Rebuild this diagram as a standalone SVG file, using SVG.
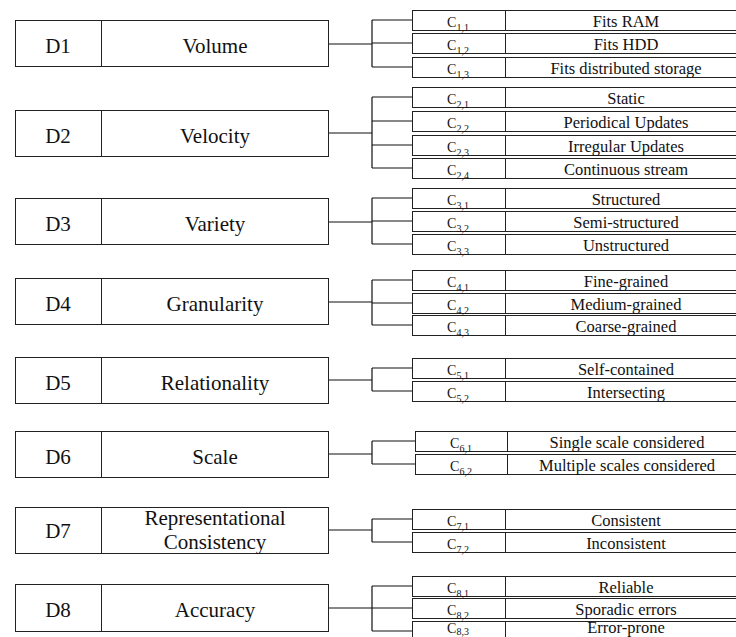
<svg xmlns="http://www.w3.org/2000/svg" width="736" height="637" viewBox="0 0 736 637">
<style>
rect{fill:#fff;stroke:#222;stroke-width:1}
.dv{stroke:#222;stroke-width:1}
text{font-family:'Liberation Serif','DejaVu Serif',serif;fill:#111;text-anchor:middle}
.dl{font-size:21px}
.cl{font-size:14px}
.sb{font-size:10px}
.ds{font-size:16.5px}
#connectors path{fill:none;stroke:#111;stroke-width:1.2}
</style>
<g id="connectors">
<path d="M329 44H372M372 20V67M372 20H412M372 43H412M372 67H412"/>
<path d="M329 133H372M372 97V168M372 97H412M372 121H412M372 145H412M372 168H412"/>
<path d="M329 222H372M372 198V244M372 198H412M372 221H412M372 244H412"/>
<path d="M329 302H372M372 280V325M372 280H412M372 303H412M372 325H412"/>
<path d="M329 380H372M372 368V391M372 368H412M372 391H412"/>
<path d="M329 454H372M372 441V464M372 441H415M372 464H415"/>
<path d="M329 530H372M372 519V542M372 519H412M372 542H412"/>
<path d="M329 608H372M372 586V631M372 586H412M372 608H412M372 631H412"/>
</g>
<g id="D1"><rect x="15.5" y="20.5" width="313" height="46"/><line class="dv" x1="101.5" y1="20.5" x2="101.5" y2="66.5"/><text class="dl" x="58" y="53">D1</text><text class="dl" x="215" y="53">Volume</text></g>
<g id="D2"><rect x="15.5" y="110.5" width="313" height="46"/><line class="dv" x1="101.5" y1="110.5" x2="101.5" y2="156.5"/><text class="dl" x="58" y="143">D2</text><text class="dl" x="215" y="143">Velocity</text></g>
<g id="D3"><rect x="15.5" y="198.5" width="313" height="46"/><line class="dv" x1="101.5" y1="198.5" x2="101.5" y2="244.5"/><text class="dl" x="58" y="231">D3</text><text class="dl" x="215" y="231">Variety</text></g>
<g id="D4"><rect x="15.5" y="278.5" width="313" height="46"/><line class="dv" x1="101.5" y1="278.5" x2="101.5" y2="324.5"/><text class="dl" x="58" y="311">D4</text><text class="dl" x="215" y="311">Granularity</text></g>
<g id="D5"><rect x="15.5" y="357.5" width="313" height="46"/><line class="dv" x1="101.5" y1="357.5" x2="101.5" y2="403.5"/><text class="dl" x="58" y="390">D5</text><text class="dl" x="215" y="390">Relationality</text></g>
<g id="D6"><rect x="15.5" y="431.5" width="313" height="46"/><line class="dv" x1="101.5" y1="431.5" x2="101.5" y2="477.5"/><text class="dl" x="58" y="464">D6</text><text class="dl" x="215" y="464">Scale</text></g>
<g id="D7"><rect x="15.5" y="507.5" width="313" height="46"/><line class="dv" x1="101.5" y1="507.5" x2="101.5" y2="553.5"/><text class="dl" x="58" y="538">D7</text><text class="dl" x="215" y="525">Representational</text><text class="dl" x="215" y="549">Consistency</text></g>
<g id="D8"><rect x="15.5" y="584.5" width="313" height="47"/><line class="dv" x1="101.5" y1="584.5" x2="101.5" y2="631.5"/><text class="dl" x="58" y="617">D8</text><text class="dl" x="215" y="617">Accuracy</text></g>

<g id="C11"><rect x="412.5" y="10.5" width="350" height="20"/><line class="dv" x1="505.5" y1="10.5" x2="505.5" y2="30.5"/><text class="cl" x="458" y="27">C<tspan class="sb" dy="4">1,1</tspan></text><text class="ds" x="626" y="27">Fits RAM</text></g>
<g id="C12"><rect x="412.5" y="33.5" width="350" height="20"/><line class="dv" x1="505.5" y1="33.5" x2="505.5" y2="53.5"/><text class="cl" x="458" y="50">C<tspan class="sb" dy="4">1,2</tspan></text><text class="ds" x="626" y="50">Fits HDD</text></g>
<g id="C13"><rect x="412.5" y="57.5" width="350" height="20"/><line class="dv" x1="505.5" y1="57.5" x2="505.5" y2="77.5"/><text class="cl" x="458" y="74">C<tspan class="sb" dy="4">1,3</tspan></text><text class="ds" x="626" y="74">Fits distributed storage</text></g>

<g id="C21"><rect x="412.5" y="87.5" width="350" height="20"/><line class="dv" x1="505.5" y1="87.5" x2="505.5" y2="107.5"/><text class="cl" x="458" y="104">C<tspan class="sb" dy="4">2,1</tspan></text><text class="ds" x="626" y="104">Static</text></g>
<g id="C22"><rect x="412.5" y="111.5" width="350" height="20"/><line class="dv" x1="505.5" y1="111.5" x2="505.5" y2="131.5"/><text class="cl" x="458" y="128">C<tspan class="sb" dy="4">2,2</tspan></text><text class="ds" x="626" y="128">Periodical Updates</text></g>
<g id="C23"><rect x="412.5" y="135.5" width="350" height="20"/><line class="dv" x1="505.5" y1="135.5" x2="505.5" y2="155.5"/><text class="cl" x="458" y="152">C<tspan class="sb" dy="4">2,3</tspan></text><text class="ds" x="626" y="152">Irregular Updates</text></g>
<g id="C24"><rect x="412.5" y="158.5" width="350" height="20"/><line class="dv" x1="505.5" y1="158.5" x2="505.5" y2="178.5"/><text class="cl" x="458" y="175">C<tspan class="sb" dy="4">2,4</tspan></text><text class="ds" x="626" y="175">Continuous stream</text></g>

<g id="C31"><rect x="412.5" y="188.5" width="350" height="20"/><line class="dv" x1="505.5" y1="188.5" x2="505.5" y2="208.5"/><text class="cl" x="458" y="205">C<tspan class="sb" dy="4">3,1</tspan></text><text class="ds" x="626" y="205">Structured</text></g>
<g id="C32"><rect x="412.5" y="211.5" width="350" height="20"/><line class="dv" x1="505.5" y1="211.5" x2="505.5" y2="231.5"/><text class="cl" x="458" y="228">C<tspan class="sb" dy="4">3,2</tspan></text><text class="ds" x="626" y="228">Semi-structured</text></g>
<g id="C33"><rect x="412.5" y="234.5" width="350" height="20"/><line class="dv" x1="505.5" y1="234.5" x2="505.5" y2="254.5"/><text class="cl" x="458" y="251">C<tspan class="sb" dy="4">3,3</tspan></text><text class="ds" x="626" y="251">Unstructured</text></g>

<g id="C41"><rect x="412.5" y="270.5" width="350" height="20"/><line class="dv" x1="505.5" y1="270.5" x2="505.5" y2="290.5"/><text class="cl" x="458" y="287">C<tspan class="sb" dy="4">4,1</tspan></text><text class="ds" x="626" y="287">Fine-grained</text></g>
<g id="C42"><rect x="412.5" y="293.5" width="350" height="20"/><line class="dv" x1="505.5" y1="293.5" x2="505.5" y2="313.5"/><text class="cl" x="458" y="310">C<tspan class="sb" dy="4">4,2</tspan></text><text class="ds" x="626" y="310">Medium-grained</text></g>
<g id="C43"><rect x="412.5" y="315.5" width="350" height="20"/><line class="dv" x1="505.5" y1="315.5" x2="505.5" y2="335.5"/><text class="cl" x="458" y="332">C<tspan class="sb" dy="4">4,3</tspan></text><text class="ds" x="626" y="332">Coarse-grained</text></g>

<g id="C51"><rect x="412.5" y="358.5" width="350" height="20"/><line class="dv" x1="505.5" y1="358.5" x2="505.5" y2="378.5"/><text class="cl" x="458" y="375">C<tspan class="sb" dy="4">5,1</tspan></text><text class="ds" x="626" y="375">Self-contained</text></g>
<g id="C52"><rect x="412.5" y="381.5" width="350" height="20"/><line class="dv" x1="505.5" y1="381.5" x2="505.5" y2="401.5"/><text class="cl" x="458" y="398">C<tspan class="sb" dy="4">5,2</tspan></text><text class="ds" x="626" y="398">Intersecting</text></g>

<g id="C61"><rect x="415.5" y="431.5" width="350" height="20"/><line class="dv" x1="507.5" y1="431.5" x2="507.5" y2="451.5"/><text class="cl" x="461" y="448">C<tspan class="sb" dy="4">6,1</tspan></text><text class="ds" x="627" y="448">Single scale considered</text></g>
<g id="C62"><rect x="415.5" y="454.5" width="350" height="20"/><line class="dv" x1="507.5" y1="454.5" x2="507.5" y2="474.5"/><text class="cl" x="461" y="471">C<tspan class="sb" dy="4">6,2</tspan></text><text class="ds" x="627" y="471">Multiple scales considered</text></g>

<g id="C71"><rect x="412.5" y="509.5" width="350" height="20"/><line class="dv" x1="505.5" y1="509.5" x2="505.5" y2="529.5"/><text class="cl" x="458" y="526">C<tspan class="sb" dy="4">7,1</tspan></text><text class="ds" x="626" y="526">Consistent</text></g>
<g id="C72"><rect x="412.5" y="532.5" width="350" height="20"/><line class="dv" x1="505.5" y1="532.5" x2="505.5" y2="552.5"/><text class="cl" x="458" y="549">C<tspan class="sb" dy="4">7,2</tspan></text><text class="ds" x="626" y="549">Inconsistent</text></g>

<g id="C81"><rect x="412.5" y="576.5" width="350" height="20"/><line class="dv" x1="505.5" y1="576.5" x2="505.5" y2="596.5"/><text class="cl" x="458" y="593">C<tspan class="sb" dy="4">8,1</tspan></text><text class="ds" x="626" y="593">Reliable</text></g>
<g id="C82"><rect x="412.5" y="598.5" width="350" height="20"/><line class="dv" x1="505.5" y1="598.5" x2="505.5" y2="618.5"/><text class="cl" x="458" y="615">C<tspan class="sb" dy="4">8,2</tspan></text><text class="ds" x="626" y="615">Sporadic errors</text></g>
<g id="C83"><rect x="412.5" y="621.5" width="350" height="20"/><line class="dv" x1="505.5" y1="621.5" x2="505.5" y2="641.5"/><text class="cl" x="458" y="633">C<tspan class="sb" dy="2">8,3</tspan></text><text class="ds" x="626" y="633">Error-prone</text></g>
</svg>
